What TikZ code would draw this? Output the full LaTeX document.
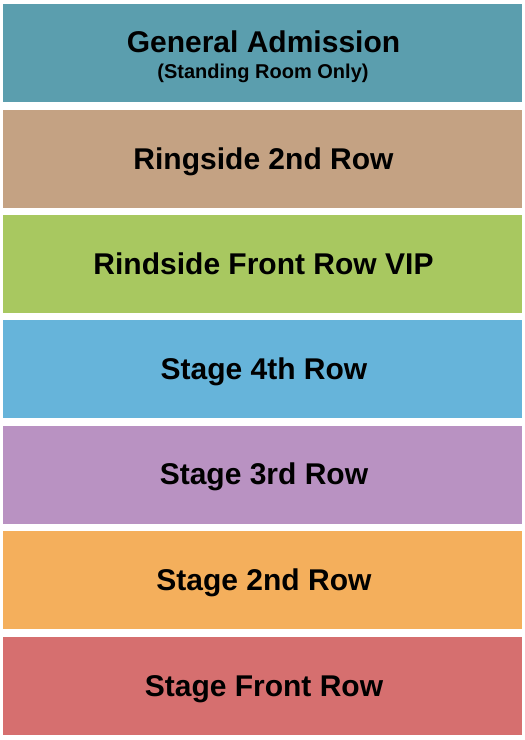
\documentclass[tikz,border=0pt]{standalone}
\usepackage{fontspec}
\setmainfont{Liberation Sans}
\usepackage{tikz}
\usepackage{xcolor}

\definecolor{gacol}{HTML}{5B9EAE}
\definecolor{ringcol}{HTML}{C4A283}
\definecolor{vipcol}{HTML}{A8C860}
\definecolor{fourcol}{HTML}{66B4DA}
\definecolor{threecol}{HTML}{B992C2}
\definecolor{twocol}{HTML}{F4AF5C}
\definecolor{frontcol}{HTML}{D66F6F}

\begin{document}
\begin{tikzpicture}[x=1pt, y=-1pt,
    section/.style={minimum width=519pt, minimum height=98pt, inner sep=0pt, outer sep=0pt},
    label/.style={anchor=base, inner sep=0pt, font=\fontsize{30}{34}\selectfont\bfseries},
    sublabel/.style={anchor=base, inner sep=0pt, font=\fontsize{20}{24}\selectfont\bfseries}]
            \useasboundingbox (0, 0) rectangle (525, 740);

            \node[section, fill=gacol] (GA) at (262.5, 53) {};
            \node[section, fill=ringcol] (R2) at (262.5, 159) {};
            \node[section, fill=vipcol] (RF) at (262.5, 264) {};
            \node[section, fill=fourcol] (S4) at (262.5, 369) {};
            \node[section, fill=threecol] (S3) at (262.5, 474.5) {};
            \node[section, fill=twocol] (S2) at (262.5, 580) {};
            \node[section, fill=frontcol] (SF) at (262.5, 686) {};

            \node[label] (GAtext) at (263.5, 52) {General Admission};
            \node[sublabel] (GAsub) at (263, 78) {(Standing Room Only)};
            \node[label] (R2text) at (263.5, 169) {Ringside 2nd Row};
            \node[label] (RFtext) at (263.5, 274) {Rindside Front Row VIP};
            \node[label] (S4text) at (264, 379) {Stage 4th Row};
            \node[label] (S3text) at (264, 484.5) {Stage 3rd Row};
            \node[label] (S2text) at (264, 590) {Stage 2nd Row};
            \node[label] (SFtext) at (264, 696) {Stage Front Row};
        \end{tikzpicture}
\end{document}
